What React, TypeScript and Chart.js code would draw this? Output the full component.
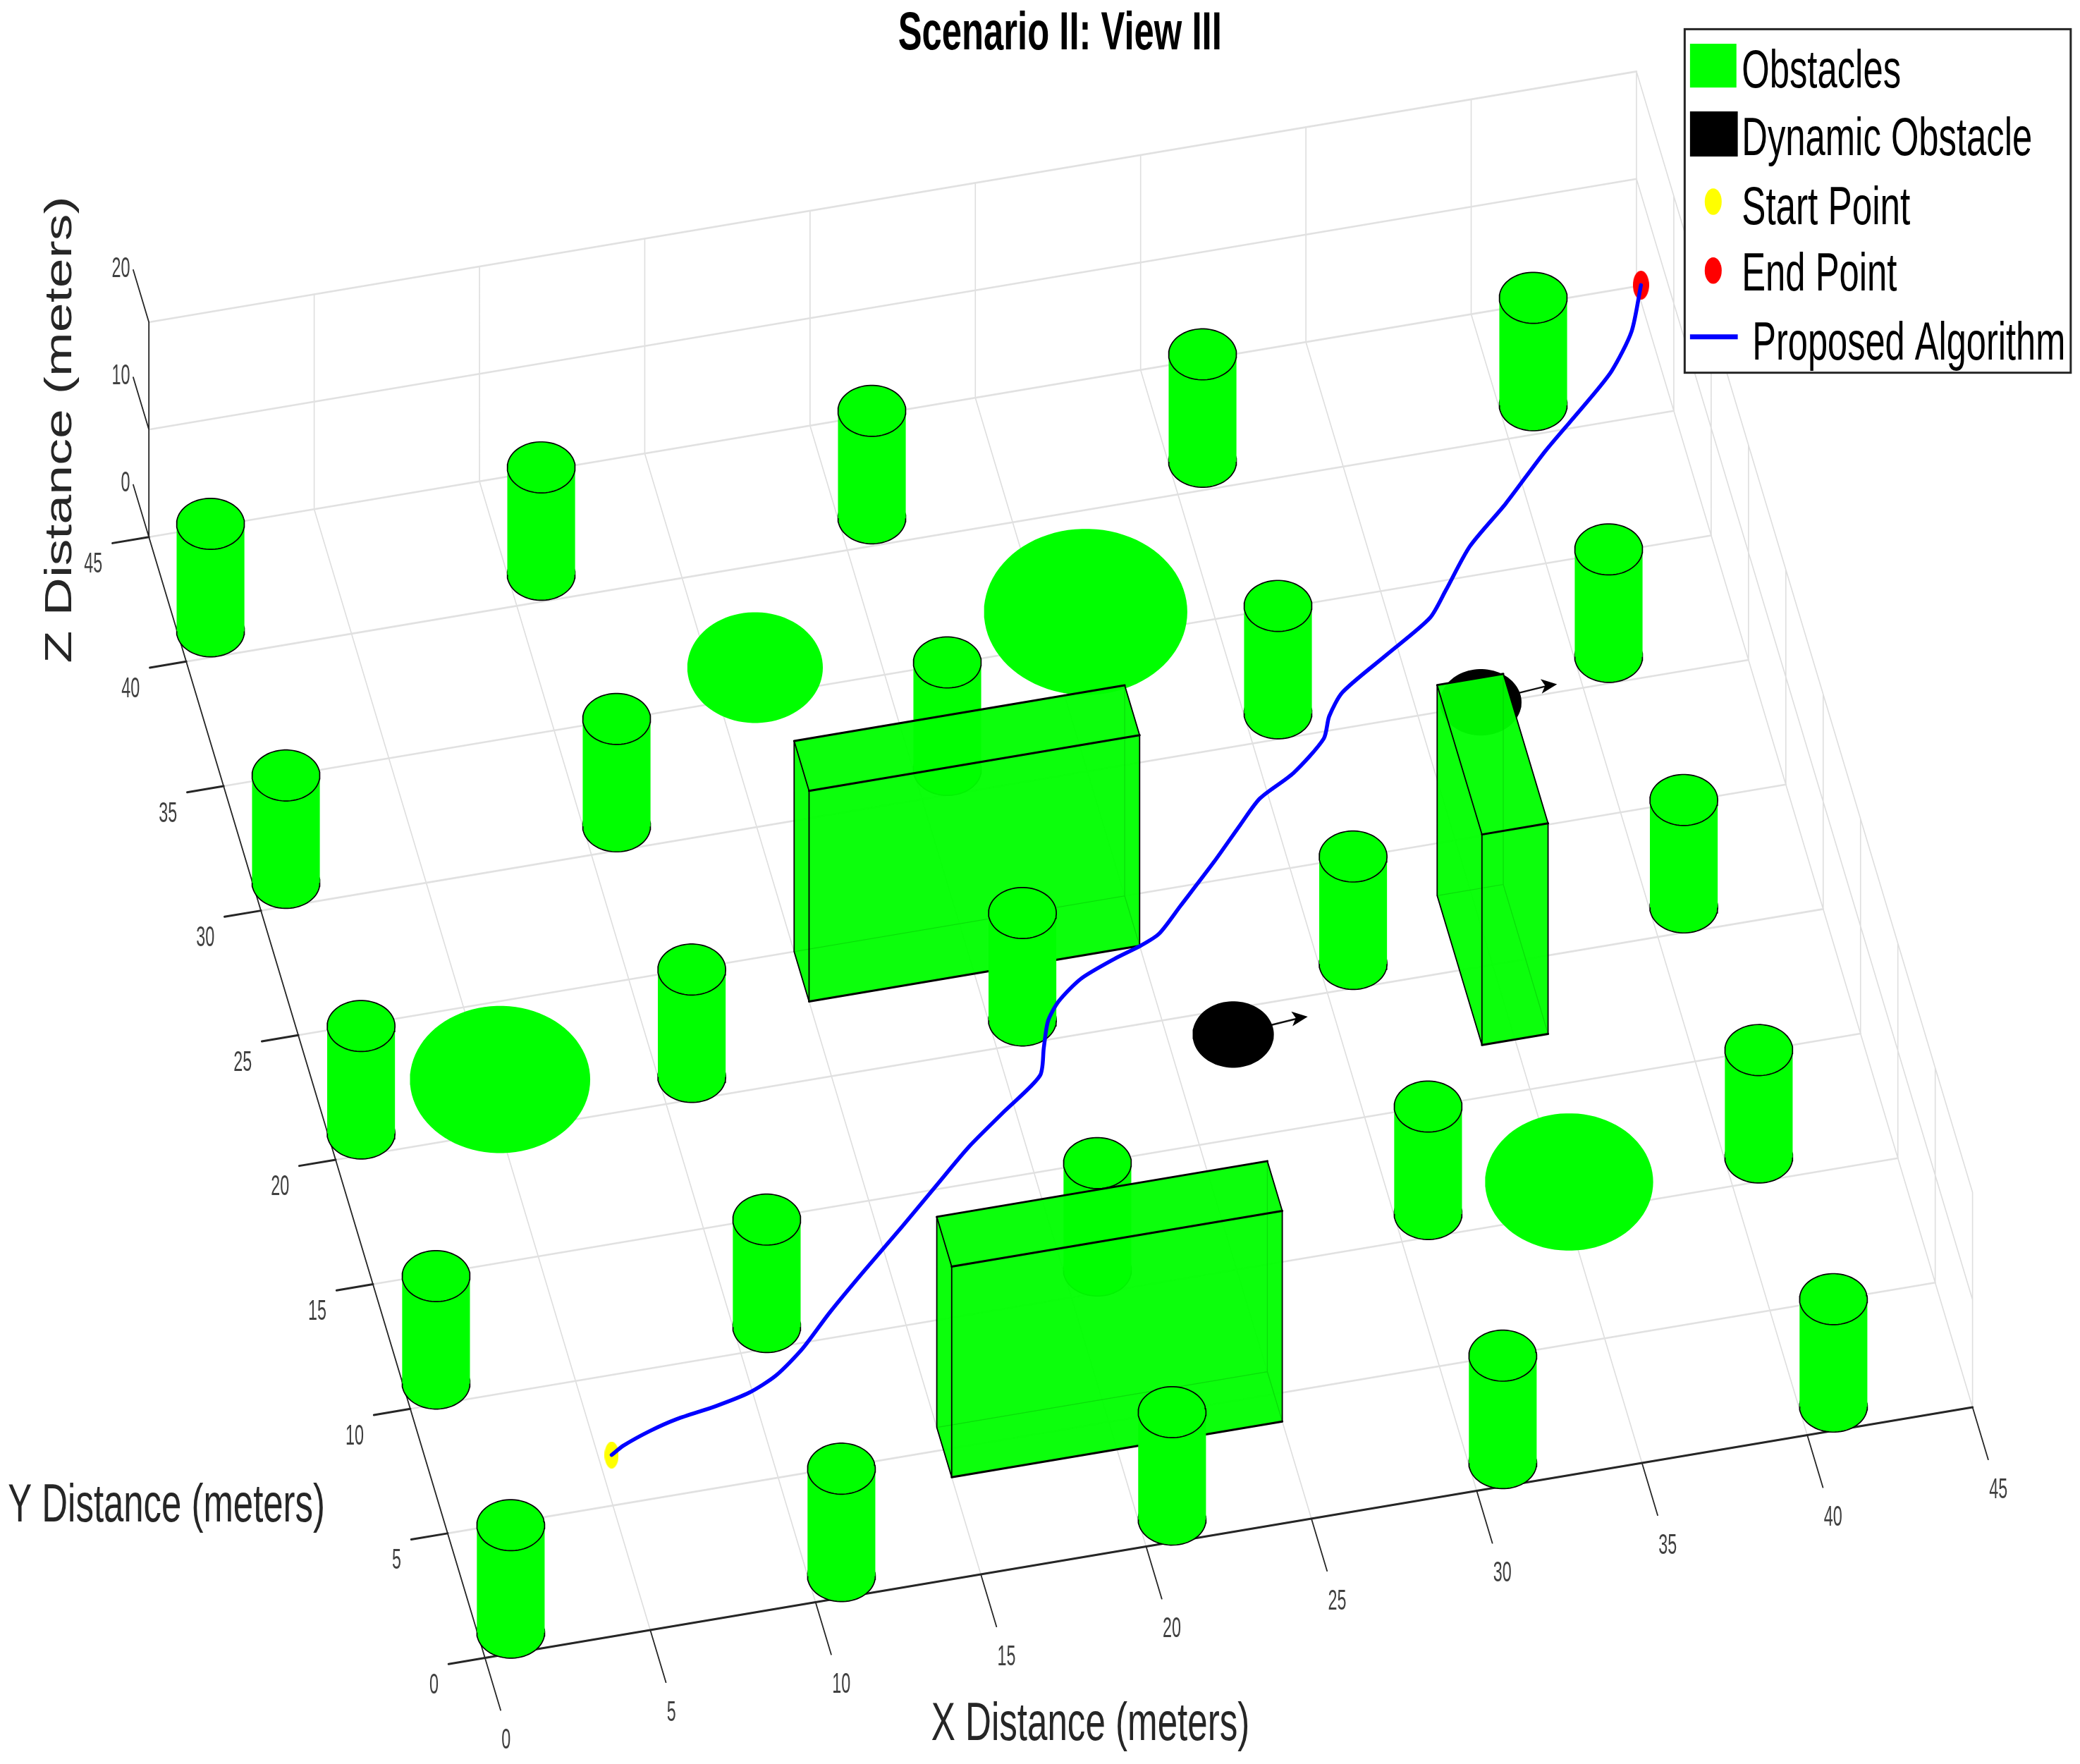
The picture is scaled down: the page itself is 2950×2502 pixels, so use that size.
import React, { useEffect, useRef } from "react";
import { Chart, registerables } from "chart.js";

Chart.register(...registerables);

// ---- data (metres, world coordinates) ----
const titleText = "Scenario II: View III";
const xAxisTitle = "X Distance (meters)";
const yAxisTitle = "Y Distance (meters)";
const zAxisTitle = "Z Distance (meters)";
const xTicks = [0, 5, 10, 15, 20, 25, 30, 35, 40, 45];
const yTicks = [0, 5, 10, 15, 20, 25, 30, 35, 40, 45];
const zTicks = [0, 10, 20];

const cylinderXs = [0.96, 10.97, 20.98, 30.99, 41];
const cylinderYs = [41, 30.9, 20.84, 10.8, 0.8];
// read-off drift of each cylinder row in y, per column of cylinderXs
const cylinderYDrift = [0, 0.03, 0.06, 0.09, 0.12];
const cylinderRadius = 1;
const cylinderHeight = 10;

// [x, y, z, radius]
const greenSpheres = [
  [25.4, 32, 10, 3],
  [15.4, 32, 10, 2],
  [4.5, 17.9, 10, 2.66],
  [34.4, 7.1, 10, 2.48],
];
const blackSpheres = [
  [36, 26, 10, 1.2],
  [26, 14.9, 10, 1.2],
];
// arrow tips [x, y, z], each arrow starts at the matching black sphere centre
const arrowTips = [
  [38.35, 26.2, 10],
  [28.3, 15.1, 10],
];

// [xMin, xMax, yMin, yMax, height]
const boxes = [
  [15, 25, 23, 25, 19.6],
  [34, 36, 17, 23, 19.6],
  [15, 25, 3.9, 5.9, 19.6],
];

const pathX = [5.4, 5.82, 6.71, 7.58, 8.84, 9.91, 10.82, 11.81, 12.89, 14.18, 15.73, 17.03, 18.33, 19.67, 21.01, 21.36, 21.71, 22.19, 23.03, 24.16, 25.04, 25.67, 26.52, 27.86, 28.94, 29.74, 30.92, 32.09, 32.44, 33.03, 34.61, 36.19, 36.89, 37.96, 39.35, 40.96, 42.5, 43.55, 44.47, 45.14];
const pathY = [6.94, 7.22, 7.61, 7.89, 8.14, 8.44, 8.92, 9.77, 10.96, 12.27, 13.79, 15.1, 16.4, 17.54, 18.68, 19.72, 20.71, 21.4, 22.12, 22.66, 23, 23.34, 24.26, 25.72, 26.97, 27.86, 28.61, 29.73, 30.55, 31.38, 32.52, 33.66, 34.62, 36.14, 37.53, 39.3, 40.82, 41.92, 43.31, 45.02];

const legendLabels = ["Obstacles", "Dynamic Obstacle", "Start Point", "End Point", "Proposed Algorithm"];

// ---- view (affine camera of the 3-D axes) ----
const VIEW_W = 1568;
const VIEW_H = 1330;
const O = [365.6, 1250];
const EX = [24.92, -4.2];
const EY = [-5.63, -18.78];
const EZ = [0, -8.1];
const AX_MAX = 45;
const ZMAX = 20;

const GREEN = "rgb(0,255,0)";
const BOX_FILL = "rgba(0,255,0,0.78)";
const CLEAR = "rgba(0,0,0,0)";

type Pt = { x: number; y: number };
const proj = (x: number, y: number, z = 0): Pt => ({
  x: O[0] + EX[0] * x + EY[0] * y + EZ[0] * z,
  y: O[1] + EX[1] * x + EY[1] * y + EZ[1] * z,
});
const GAP: Pt = { x: NaN, y: NaN };
const seg = (pairs: Pt[][]): Pt[] => pairs.flatMap((p) => [...p, GAP]);

const lineDs = (data: Pt[], color: string, width: number) => ({
  data,
  showLine: true,
  fill: false,
  borderColor: color,
  borderWidth: width,
  pointRadius: 0,
  tension: 0,
  clip: false,
  borderCapStyle: "round",
});
const shapeDs = (data: Pt[], fillColor: string, stroke?: string, width = 2) => ({
  data,
  showLine: true,
  fill: "shape",
  backgroundColor: fillColor,
  borderColor: stroke || CLEAR,
  borderWidth: stroke ? width : 1,
  pointRadius: 0,
  tension: 0,
  clip: false,
});

function circle(cx: number, cy: number, z: number, r: number): Pt[] {
  const out: Pt[] = [];
  for (let i = 0; i <= 72; i++) {
    const a = (i / 72) * Math.PI * 2;
    out.push(proj(cx + r * Math.cos(a), cy + r * Math.sin(a), z));
  }
  return out;
}
function sphere(cx: number, cy: number, z: number, r: number): Pt[] {
  const c = proj(cx, cy, z);
  const hx = Math.hypot(EX[0], EY[0], EZ[0]) * r;
  const hy = Math.hypot(EX[1], EY[1], EZ[1]) * r;
  const out: Pt[] = [];
  for (let i = 0; i < 90; i++) {
    const a = (i / 90) * Math.PI * 2;
    out.push({ x: c.x + hx * Math.cos(a), y: c.y + hy * Math.sin(a) });
  }
  return out;
}
function cylinder(cx: number, cy: number) {
  const r = cylinderRadius;
  const t = Math.atan2(EY[0], EX[0]);
  const px = r * Math.cos(t);
  const py = r * Math.sin(t);
  const body = [
    proj(cx + px, cy + py, 0),
    proj(cx + px, cy + py, cylinderHeight),
    proj(cx - px, cy - py, cylinderHeight),
    proj(cx - px, cy - py, 0),
  ];
  return [
    shapeDs(circle(cx, cy, 0, r), GREEN, "#000", 1.7),
    shapeDs(body, GREEN),
    shapeDs(circle(cx, cy, cylinderHeight, r), GREEN, "#000", 1.7),
  ];
}
function box([x0, x1, y0, y1, h]: number[]) {
  const p = proj;
  const hidden = [
    [p(x0, y0, 0), p(x1, y0, 0), p(x1, y1, 0), p(x0, y1, 0)],
    [p(x0, y1, 0), p(x1, y1, 0), p(x1, y1, h), p(x0, y1, h)],
    [p(x1, y0, 0), p(x1, y1, 0), p(x1, y1, h), p(x1, y0, h)],
  ];
  const front = [
    [p(x0, y0, h), p(x1, y0, h), p(x1, y1, h), p(x0, y1, h)],
    [p(x0, y0, 0), p(x1, y0, 0), p(x1, y0, h), p(x0, y0, h)],
    [p(x0, y0, 0), p(x0, y1, 0), p(x0, y1, h), p(x0, y0, h)],
  ];
  const hiddenEdges = seg([
    [p(x0, y1, 0), p(x1, y1, 0)],
    [p(x1, y1, 0), p(x1, y1, h)],
    [p(x1, y0, 0), p(x1, y1, 0)],
  ]);
  const edgesX = seg([
    [p(x0, y0, h), p(x1, y0, h)],
    [p(x0, y1, h), p(x1, y1, h)],
    [p(x0, y0, 0), p(x1, y0, 0)],
  ]);
  const edgesOther = seg([
    [p(x0, y0, h), p(x0, y1, h)],
    [p(x1, y0, h), p(x1, y1, h)],
    [p(x0, y0, 0), p(x0, y1, 0)],
    [p(x0, y0, 0), p(x0, y0, h)],
    [p(x1, y0, 0), p(x1, y0, h)],
    [p(x0, y1, 0), p(x0, y1, h)],
  ]);
  return [
    ...hidden.map((f) => shapeDs(f, BOX_FILL)),
    lineDs(hiddenEdges, "rgba(0,0,0,0.6)", 1.2),
    ...front.map((f) => shapeDs(f, BOX_FILL)),
    lineDs(edgesX, "#000", 3),
    lineDs(edgesOther, "#000", 1.8),
  ];
}
function arrow(from: number[], tip: number[]) {
  const [x, y, z] = tip;
  return [
    lineDs([proj(from[0], from[1], from[2]), proj(x - 0.3, y, z)], "#111", 2.5),
    shapeDs(
      [proj(x, y, z), proj(x - 0.429, y + 0.304, z), proj(x - 0.355, y + 0.026, z), proj(x - 0.52, y - 0.262, z)],
      "#000"
    ),
  ];
}
function ellipseMarker(color: string, w: number, h: number) {
  const c = document.createElement("canvas");
  c.width = w;
  c.height = h;
  const g = c.getContext("2d")!;
  g.fillStyle = color;
  g.beginPath();
  g.ellipse(w / 2, h / 2, w / 2, h / 2, 0, 0, Math.PI * 2);
  g.fill();
  return c;
}

function buildDatasets() {
  const ds: any[] = [];
  const steep: Pt[][] = [];
  const shallow: Pt[][] = [];
  for (const t of xTicks) {
    steep.push([proj(t, 0, 0), proj(t, AX_MAX, 0)]);
    steep.push([proj(t, AX_MAX, 0), proj(t, AX_MAX, ZMAX)]);
  }
  for (const t of yTicks) {
    shallow.push([proj(0, t, 0), proj(AX_MAX, t, 0)]);
    steep.push([proj(AX_MAX, t, 0), proj(AX_MAX, t, ZMAX)]);
  }
  for (const t of zTicks) {
    shallow.push([proj(0, AX_MAX, t), proj(AX_MAX, AX_MAX, t)]);
    steep.push([proj(AX_MAX, 0, t), proj(AX_MAX, AX_MAX, t)]);
  }
  ds.push(lineDs(seg(steep), "rgb(222,222,222)", 1.6));
  ds.push(lineDs(seg(shallow), "rgb(225,225,225)", 2.6));

  // axes and tick marks
  const thick: Pt[][] = [[proj(0, 0, 0), proj(AX_MAX, 0, 0)]];
  const thin: Pt[][] = [
    [proj(0, 0, 0), proj(0, AX_MAX, 0)],
    [proj(0, AX_MAX, 0), proj(0, AX_MAX, ZMAX)],
  ];
  for (const t of xTicks) thin.push([proj(t, 0, 0), proj(t, -2.1, 0)]);
  for (const t of yTicks) thick.push([proj(0, t, 0), proj(-1.1, t, 0)]);
  for (const t of zTicks) thin.push([proj(0, AX_MAX, t), proj(0, AX_MAX + 2.1, t)]);
  ds.push(lineDs(seg(thick), "#262626", 3));
  ds.push(lineDs(seg(thin), "#262626", 1.8));

  // painter's order, from far (large y) to near
  const items: { key: number; make: () => any[] }[] = [];
  greenSpheres.forEach(([x, y, z, r]) => items.push({ key: y + 0.5, make: () => [shapeDs(sphere(x, y, z, r), GREEN)] }));
  blackSpheres.forEach(([x, y, z, r], i) =>
    items.push({
      key: y + 0.5,
      make: () => [...arrow([x, y, z], arrowTips[i]), shapeDs(sphere(x, y, z, r), "#000")],
    })
  );
  for (const y of cylinderYs)
    cylinderXs.forEach((x, i) => items.push({ key: y, make: () => cylinder(x, y + cylinderYDrift[i]) }));
  boxes.forEach((b) => items.push({ key: (b[2] + b[3]) / 2, make: () => box(b) }));
  items.sort((a, b) => b.key - a.key);
  items.forEach((it) => ds.push(...it.make()));

  // start / end markers and path
  const path = pathX.map((x, i) => proj(x, pathY[i], 0));
  ds.push({ data: [path[0]], showLine: false, pointRadius: 10, pointStyle: ellipseMarker("rgb(255,255,0)", 20, 38) });
  ds.push({ data: [path[path.length - 1]], showLine: false, pointRadius: 10, pointStyle: ellipseMarker("rgb(255,0,0)", 23, 41) });
  ds.push({ ...lineDs(path, "rgb(0,0,255)", 5.5), borderJoinStyle: "round", tension: 0.25 });
  const n = ds.length;
  ds.forEach((d, i) => (d.order = n - i));
  return ds;
}

const FONT = '"Liberation Sans", Arial, sans-serif';
function put(
  ctx: CanvasRenderingContext2D,
  text: string,
  x: number,
  y: number,
  o: { size: number; width: number; color: string; bold?: boolean; align?: CanvasTextAlign; rot?: number }
) {
  ctx.save();
  ctx.translate(x, y);
  if (o.rot) ctx.rotate(o.rot);
  ctx.font = `${o.bold ? "bold " : ""}${o.size}px ${FONT}`;
  const w = ctx.measureText(text).width;
  ctx.scale(o.width / w, 1);
  ctx.textAlign = o.align || "center";
  ctx.textBaseline = "middle";
  ctx.fillStyle = o.color;
  ctx.fillText(text, 0, 0);
  ctx.restore();
}

const annotations = {
  id: "annotations",
  afterDraw(chart: any) {
    const ctx: CanvasRenderingContext2D = chart.ctx;
    const px = (v: number) => chart.scales.x.getPixelForValue(v);
    const py = (v: number) => chart.scales.y.getPixelForValue(v);
    const k = px(1) - px(0);
    const TICK = "#404040";
    const tickOpts = (s: string) => ({ size: 40, width: 13 * s.length, color: TICK });
    xTicks.forEach((t) => {
      const p = proj(t, 0, 0);
      put(ctx, String(t), px(p.x + 12.5), py(p.y + 62.5), { ...tickOpts(String(t)), align: "left" });
    });
    yTicks.forEach((t) => {
      const p = proj(0, t, 0);
      put(ctx, String(t), px(p.x - 35), py(p.y + 21), { ...tickOpts(String(t)), align: "right" });
    });
    zTicks.forEach((t) => {
      const p = proj(0, AX_MAX, t);
      put(ctx, String(t), px(98), py(p.y - 40), { ...tickOpts(String(t)), align: "right" });
    });

    put(ctx, titleText, px(799), py(26), { size: 76, width: 244 * k, color: "#000", bold: true });
    put(ctx, xAxisTitle, px(822), py(1301), { size: 76, width: 240 * k, color: "#262626" });
    put(ctx, yAxisTitle, px(125.5), py(1136), { size: 76, width: 239 * k, color: "#262626" });
    put(ctx, zAxisTitle, px(46), py(324), { size: 54, width: 352 * k, color: "#262626", rot: -Math.PI / 2 });

    // legend
    const bx = px(1270), by = py(22), bw = 291 * k, bh = 259 * k;
    ctx.fillStyle = "#fff";
    ctx.fillRect(bx, by, bw, bh);
    ctx.strokeStyle = "#262626";
    ctx.lineWidth = 3;
    ctx.strokeRect(bx, by, bw, bh);
    ctx.fillStyle = GREEN;
    ctx.fillRect(px(1274), py(33), 35 * k, 33 * k);
    ctx.fillStyle = "#000";
    ctx.fillRect(px(1274), py(84), 36 * k, 34 * k);
    ctx.fillStyle = "rgb(255,255,0)";
    ctx.beginPath();
    ctx.ellipse(px(1291.5), py(152), 6.4 * k, 10 * k, 0, 0, Math.PI * 2);
    ctx.fill();
    ctx.fillStyle = "rgb(255,0,0)";
    ctx.beginPath();
    ctx.ellipse(px(1291.5), py(204), 6.4 * k, 10 * k, 0, 0, Math.PI * 2);
    ctx.fill();
    ctx.strokeStyle = "rgb(0,0,255)";
    ctx.lineWidth = 7;
    ctx.beginPath();
    ctx.moveTo(px(1274), py(254));
    ctx.lineTo(px(1310), py(254));
    ctx.stroke();
    const rows: [number, number, number][] = [
      [1313, 120, 55],
      [1313, 219, 106],
      [1313, 127, 158],
      [1313, 117, 208],
      [1321, 236, 260],
    ];
    legendLabels.forEach((s, i) => {
      const [x, w, y] = rows[i];
      put(ctx, s, px(x), py(y), { size: 76, width: w * k, color: "#000", align: "left" });
    });
  },
};

export default function App() {
  const ref = useRef<HTMLCanvasElement>(null);
  useEffect(() => {
    document.body.style.margin = "0";
    const chart = new Chart(ref.current!, {
      type: "scatter",
      data: { datasets: buildDatasets() },
      options: {
        animation: false,
        responsive: false,
        events: [],
        layout: { padding: 0, autoPadding: false },
        scales: {
          x: { type: "linear", min: 0, max: VIEW_W, display: false },
          y: { type: "linear", min: 0, max: VIEW_H, reverse: true, display: false },
        },
        plugins: { legend: { display: false }, tooltip: { enabled: false }, title: { display: false } },
      },
      plugins: [annotations],
    } as any);
    return () => chart.destroy();
  }, []);
  return (
    <canvas
      ref={ref}
      width={2950}
      height={2502}
      style={{ position: "absolute", left: 0, top: 0, width: 2950, height: 2502, display: "block" }}
    />
  );
}
